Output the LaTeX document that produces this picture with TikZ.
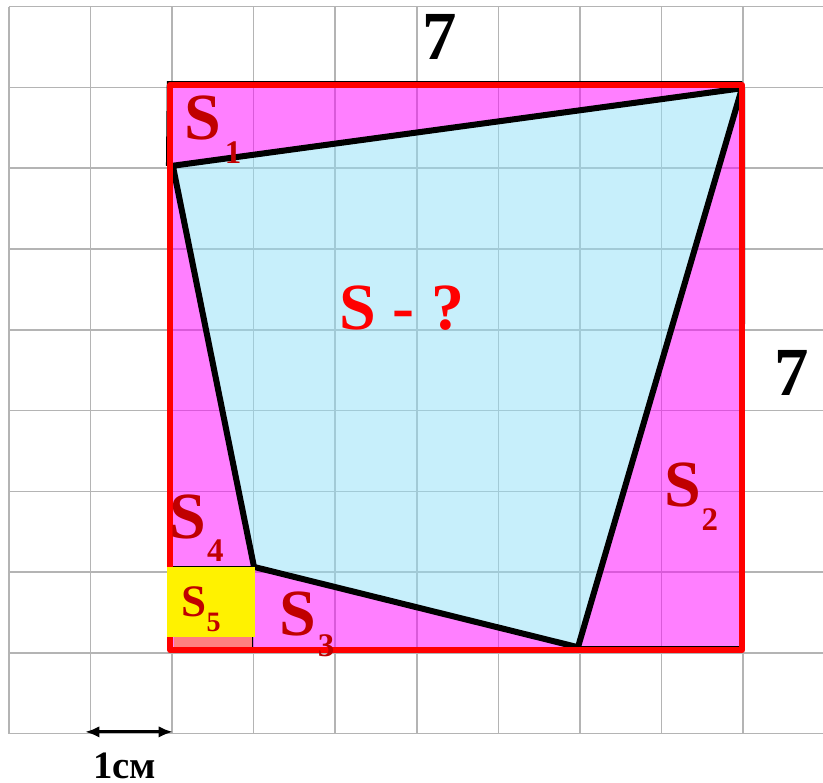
\documentclass[tikz,border=0pt]{standalone}
\usepackage{fontspec}
\setmainfont{Liberation Serif}[BoldFont={Liberation Serif Bold}]
\newfontfamily\lserif{Liberation Serif}[BoldFont={Liberation Serif Bold}]
\usetikzlibrary{arrows.meta}
\definecolor{gridc}{RGB}{180,180,180}
\definecolor{pinkb}{RGB}{255,1,255}
\definecolor{blueb}{RGB}{145,225,249}
\definecolor{lblred}{RGB}{192,0,0}
\definecolor{salmonc}{RGB}{255,128,128}
\tikzset{
  gridline/.style={draw=gridc, line width=0.55pt},
  lbl/.style={text=lblred, font=\lserif\bfseries\fontsize{23}{23}\selectfont, inner sep=0pt, anchor=base},
  sublbl/.style={text=lblred, font=\lserif\bfseries\fontsize{11.5}{11.5}\selectfont, inner sep=0pt, anchor=base},
  lblfive/.style={text=lblred, font=\lserif\bfseries\fontsize{15.7}{15.7}\selectfont, inner sep=0pt, anchor=base},
  subfive/.style={text=lblred, font=\lserif\bfseries\fontsize{9.8}{9.8}\selectfont, inner sep=0pt, anchor=base},
  qlbl/.style={text=red, font=\lserif\bfseries\fontsize{23}{23}\selectfont, inner sep=0pt, anchor=base},
  numlbl/.style={text=black, font=\lserif\bfseries\fontsize{24}{24}\selectfont, inner sep=0pt, anchor=base},
  cmlbl/.style={text=black, font=\lserif\bfseries\fontsize{13.5}{13.5}\selectfont, inner sep=0pt, anchor=base},
  quadline/.style={draw=black, line width=2.1pt, line join=round},
  squareline/.style={draw=red, line width=2.1pt, line join=round},
  thinedge/.style={draw=black, line width=0.8pt},
  dimarrow/.style={line width=1pt, {Latex[length=5pt,width=4pt]}-{Latex[length=5pt,width=4pt]}}
}
\begin{document}
\begin{tikzpicture}[x=1cm,y=0.99cm]
\useasboundingbox[fill=white] (-2.108,-1.609) rectangle (7.978,8.082);
% grid
\foreach \i in {-2,...,7} \draw[gridline] (\i,-1) -- (\i,8);
\foreach \j in {-1,...,8} \draw[gridline] (-2,\j) -- (7.978,\j);
% key points
\coordinate (A) at (0.01,6.03);
\coordinate (B) at (6.985,6.99);
\coordinate (C) at (4.975,0.07);
\coordinate (D) at (1.005,1.064);
\coordinate (SW) at (-0.02,0.03);
\coordinate (SE) at (6.985,0.03);
\coordinate (NE) at (6.985,7.035);
\coordinate (NW) at (-0.02,7.035);
% fills
\fill[pinkb, fill opacity=0.5, even odd rule] (SW) -- (SE) -- (NE) -- (NW) -- cycle (A) -- (B) -- (C) -- (D) -- cycle;
\fill[blueb, fill opacity=0.5] (A) -- (B) -- (C) -- (D) -- cycle;
% thin outlines of the pieces
\coordinate (T1) at (-0.06,6.03);
\coordinate (T2) at (-0.05,7.065);
\coordinate (T3) at (6.99,7.065);
\draw[thinedge] (T1) -- (T2) -- (T3);
\coordinate (R1) at (7.005,0.07);
\coordinate (R2) at (7.01,6.99);
\draw[thinedge] (C) -- (R1) -- (R2);
\coordinate (F1) at (-0.06,1.064);
\draw[thinedge] (F1) -- (D);
\coordinate (G1) at (0.98,0.07);
\coordinate (G2) at (0.98,0.2);
\draw[thinedge] (G1) -- (G2);
% S5 square
\fill[salmonc] (0.025,0.074) rectangle (0.98,0.2);
% quadrilateral and square
\draw[quadline] (A) -- (B) -- (C) -- (D) -- cycle;
\draw[squareline] (SW) -- (SE) -- (NE) -- (NW) -- cycle;
\fill[yellow] (-0.06,0.198) rectangle (1.02,1.064);
% labels
\node[lbl] (s1) at (0.38,6.36) {S};
\node[sublbl] (s1i) at (0.75,6.06) {1};
\node[lbl] (s2) at (6.26,1.81) {S};
\node[sublbl] (s2i) at (6.59,1.52) {2};
\node[lbl] (s3) at (1.54,0.22) {S};
\node[sublbl] (s3i) at (1.89,-0.05) {3};
\node[lbl] (s4) at (0.20,1.42) {S};
\node[sublbl] (s4i) at (0.53,1.13) {4};
\node[lblfive] (s5) at (0.27,0.45) {S};
\node[subfive] (s5i) at (0.51,0.26) {5};
\node[qlbl] (q) at (2.82,4.0) {S - ?};
\node[numlbl] (top7) at (3.28,7.34) {7};
\node[numlbl] (right7) at (7.60,3.19) {7};
\node[cmlbl] (cm) at (-0.58,-1.55) {1см};
% 1 cm arrow
\coordinate (L) at (-1.066,-0.978);
\coordinate (Rr) at (0.012,-0.978);
\draw[dimarrow] (L) -- (Rr);
\end{tikzpicture}
\end{document}
